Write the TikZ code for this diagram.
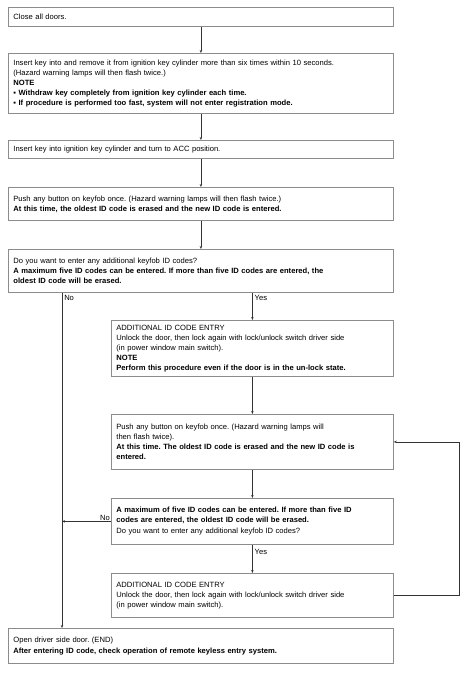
\documentclass[tikz,border=0pt]{standalone}
\usepackage{fontspec}
\setmainfont{Liberation Sans}
\usetikzlibrary{arrows.meta}
\begin{document}
\frenchspacing
\begin{tikzpicture}[x=1pt,y=-1pt,
  box/.style={draw=black!45,line width=0.8pt,rectangle,anchor=north west,
    inner xsep=5pt,inner ysep=2pt,align=left,
    font=\fontsize{7.6}{10}\selectfont},
  wide/.style={box,text width=375pt},
  narrow/.style={box,text width=272pt},
  arr/.style={draw=black!80,line width=0.5pt,-{Stealth[length=3pt,width=2.4pt]}},
  lbl/.style={font=\fontsize{7.6}{8}\selectfont,inner sep=1pt}]
\useasboundingbox (0,0) rectangle (462,676);
\fill[white] (0,0) rectangle (462,676);
\coordinate (noX) at (62,0);
\coordinate (fbX) at (459,0);

\node[wide,minimum height=19pt] (b1) at (8,7) {Close all doors.};
\node[wide,minimum height=60pt] (b2) at (8,53) {Insert key into and remove it from ignition key cylinder more than six times within 10 seconds.\\
(Hazard warning lamps will then flash twice.)\\
\textbf{NOTE}\\
\textbf{▪ Withdraw key completely from ignition key cylinder each time.}\\
\textbf{▪ If procedure is performed too fast, system will not enter registration mode.}};
\node[wide,minimum height=18pt] (b3) at (8,140) {Insert key into ignition key cylinder and turn to ACC position.};
\node[wide,minimum height=33pt] (b4) at (8,187) {Push any button on keyfob once. (Hazard warning lamps will then flash twice.)\\
\textbf{At this time, the oldest ID code is erased and the new ID code is entered.}};
\node[wide,minimum height=43pt] (b5) at (8,249) {Do you want to enter any additional keyfob ID codes?\\
\textbf{A maximum five ID codes can be entered. If more than five ID codes are entered, the}\\
\textbf{oldest ID code will be erased.}};
\node[narrow,minimum height=56pt] (b6) at (111,320) {ADDITIONAL ID CODE ENTRY\\
Unlock the door, then lock again with lock/unlock switch driver side\\
(in power window main switch).\\
\textbf{NOTE}\\
\textbf{Perform this procedure even if the door is in the un-lock state.}};
\node[narrow,minimum height=55pt] (b7) at (111,414) {Push any button on keyfob once. (Hazard warning lamps will\\
then flash twice).\\
\textbf{At this time. The oldest ID code is erased and the new ID code is}\\
\textbf{entered.}};
\node[narrow,minimum height=46pt] (b8) at (111,498) {\textbf{A maximum of five ID codes can be entered. If more than five ID}\\
\textbf{codes are entered, the oldest ID code will be erased.}\\[1pt]
Do you want to enter any additional keyfob ID codes?};
\node[narrow,minimum height=44pt] (b9) at (111,573) {ADDITIONAL ID CODE ENTRY\\
Unlock the door, then lock again with lock/unlock switch driver side\\
(in power window main switch).};
\node[wide,minimum height=35pt] (b10) at (8,628) {Open driver side door. (END)\\[1pt]
\textbf{After entering ID code, check operation of remote keyless entry system.}};

\draw[arr] (b1.south) -- (b2.north);
\draw[arr] (b2.south) -- (b3.north);
\draw[arr] (b3.south) -- (b4.north);
\draw[arr] (b4.south) -- (b5.north);
\draw[arr] (b5.south -| b6.north) -- node[lbl,pos=0.03,anchor=north west,xshift=1pt] (yes1) {Yes} (b6.north);
\draw[arr] (b5.south -| noX) -- node[lbl,pos=0.003,anchor=north west,xshift=1pt] (no1) {No} (b10.north -| noX);
\draw[arr] (b6.south) -- (b7.north);
\draw[arr] (b7.south) -- (b8.north);
\draw[arr] (b8.west) -- node[lbl,pos=0.0,anchor=south east] (no2) {No} (b8.west -| noX);
\draw[arr] (b8.south) -- node[lbl,pos=0.25,anchor=west,xshift=1pt] (yes2) {Yes} (b9.north);
\draw[arr] (b9.east) -- (b9.east -| fbX) -- (b7.east -| fbX) -- (b7.east);
\end{tikzpicture}
\end{document}
